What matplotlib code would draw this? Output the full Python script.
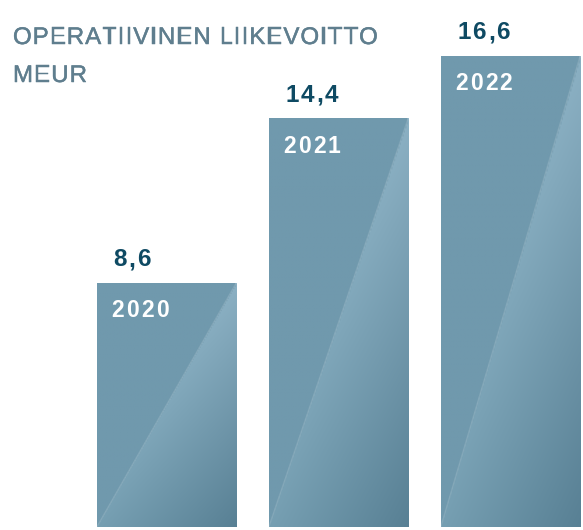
import numpy as np
import matplotlib
matplotlib.use('Agg')
import matplotlib.pyplot as plt
import matplotlib.patheffects as pe

years = ['2020', '2021', '2022']
values = [8.6, 14.4, 16.6]
value_labels = ['8,6', '14,4', '16,6']
title_lines = ['OPERATIIVINEN LIIKEVOITTO', 'MEUR']

bar_width = 0.81
solid = np.array([0x70, 0x99, 0xad]) / 255
c_tr = np.array([0x8b, 0xb0, 0xc3]) / 255
c_br = np.array([0x58, 0x80, 0x94]) / 255
c_bl = np.array([0x76, 0x9f, 0xb2]) / 255

plt.rcParams['font.family'] = ['Liberation Sans', 'DejaVu Sans']

fig = plt.figure(figsize=(5.83, 5.30), dpi=100)
ax = fig.add_axes([0, 0, 1, 1])
ax.set_xlim(-0.968, 2.422)
ax.set_ylim(-0.106, 18.58)
ax.axis('off')
renderer = fig.canvas.get_renderer()


def spaced_text(s, xy, dx, dy, spacing, coords='data', **kw):
    # matplotlib has no letter spacing, so place characters one by one
    off = dx
    for ch in s:
        if ch == ' ':
            off += kw['fontsize'] * 0.28 + spacing
            continue
        t = ax.annotate(ch, xy, xycoords=coords, xytext=(off, dy),
                        textcoords='offset points', ha='left', va='baseline', **kw)
        w = t.get_window_extent(renderer).width * 72 / fig.dpi
        off += w + spacing


# gradient image for one bar: solid left triangle, shaded right triangle
ny, nx = 200, 100
u = np.linspace(0, 1, nx)[None, :]
v = np.linspace(0, 1, ny)[:, None]
right = u >= v
img = np.empty((ny, nx, 3))
for k in range(3):
    shade = c_bl[k] + (c_br[k] - c_bl[k]) * u + (c_tr[k] - c_br[k]) * v
    img[..., k] = np.where(right, shade, solid[k])

for i, (yr, val, lab) in enumerate(zip(years, values, value_labels)):
    x0 = i - bar_width / 2
    x1 = i + bar_width / 2
    ax.imshow(img, extent=[x0, x1, 0, val], origin='lower', aspect='auto',
              interpolation='bilinear', zorder=1)
    ax.plot([x0, x1], [0, val], color='white', alpha=0.12, lw=1, zorder=2)
    spaced_text(lab, (x0, val), 12, 12, 1.3, fontsize=17.5, fontweight='bold',
                color='#0e4a63')
    spaced_text(yr, (x0, val), 10.5, -24.5, 1.5, fontsize=16.5, fontweight='bold',
                color='white', zorder=3)

thick = [pe.withStroke(linewidth=0.35, foreground='#5f7e8e')]
spaced_text(title_lines[0], (13, 486), 0, 0, 0.75, coords='figure pixels',
            fontsize=17.3, color='#5f7e8e', path_effects=thick)
spaced_text(title_lines[1], (13, 448), 0, 0, 0.75, coords='figure pixels',
            fontsize=17.3, color='#5f7e8e', path_effects=thick)

fig.savefig('out.png', dpi=100)
